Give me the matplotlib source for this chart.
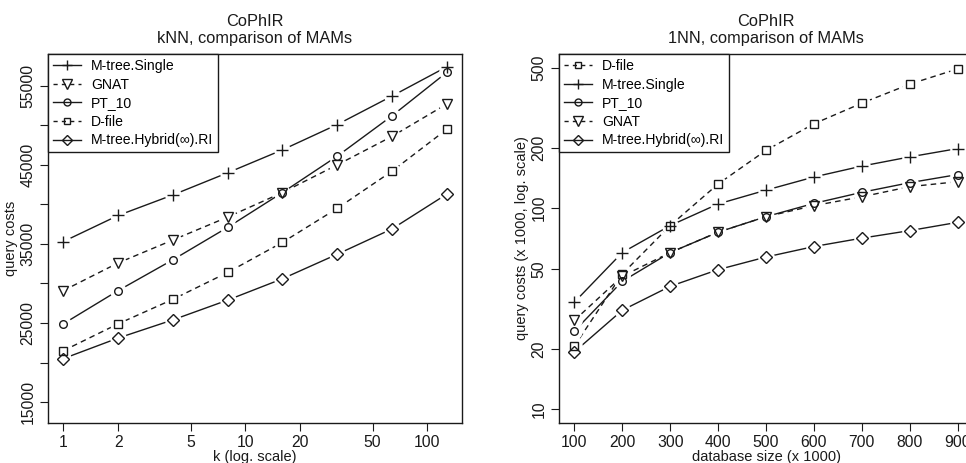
import numpy as np
import matplotlib.pyplot as plt
from matplotlib.lines import Line2D

plt.rcParams['font.family'] = ['Liberation Sans', 'DejaVu Sans']

# left panel: kNN, k on log scale
k_vals = [1, 2, 4, 8, 16, 32, 64, 128]
knn_mtree_single = [35300, 38600, 41200, 44000, 46900, 50100, 53700, 57400]
knn_gnat = [29100, 32600, 35500, 38400, 41500, 45000, 48600, 52700]
knn_pt10 = [24900, 29100, 33000, 37100, 41500, 46100, 51200, 56700]
knn_dfile = [21500, 24900, 28000, 31400, 35200, 39500, 44200, 49500]
knn_hybrid = [20500, 23100, 25400, 27900, 30600, 33700, 36900, 41300]

# right panel: 1NN, database size
db_size = [100, 200, 300, 400, 500, 600, 700, 800, 900]
nn_dfile = [20.6, 47.1, 82, 132, 194, 263, 333, 414, 493]
nn_mtree_single = [34.1, 60.2, 82, 105, 123, 143, 162, 180, 198]
nn_pt10 = [24.5, 43.3, 60.2, 76, 90.8, 105.7, 120, 134, 147]
nn_gnat = [27.7, 45.9, 60.2, 76, 90.8, 103, 114, 128, 135.5]
nn_hybrid = [19.3, 31.1, 40.9, 49.5, 57.2, 64.5, 71, 77.4, 85.1]

hyb_label = "M-tree.Hybrid(\u221e).RI"
style = {
    "M-tree.Single": ("+", "-", 8),
    "GNAT": ("v", "--", 7),
    "PT_10": ("o", "-", 5.5),
    "D-file": ("s", "--", 5.5),
    hyb_label: ("D", "-", 6),
}

ink = "#1a1a1a"
fs = 10.5


def draw_panel(ax, x, series, order):
    # lines first, then white gaps, then the markers (like R type="b")
    for name, y in series:
        m, ls, ms = style[name]
        ax.plot(x, y, color=ink, lw=1, ls=ls, dashes=(4, 3) if ls == "--" else (None, None), zorder=2)
    for name, y in series:
        ax.plot(x, y, ls="none", marker="o", ms=12, mfc="white", mec="none", zorder=3)
    for name, y in series:
        m, ls, ms = style[name]
        ax.plot(x, y, ls="none", marker=m, ms=ms, mfc="none", mec=ink, mew=1, zorder=4)
    handles = []
    for name in order:
        m, ls, ms = style[name]
        h = Line2D([], [], color=ink, lw=1, ls=ls, marker=m, ms=ms - 0.5, mfc="none", mec=ink)
        if ls == "--":
            h.set_dashes((3, 3))
        handles.append(h)
    leg = ax.legend(handles, order, loc="upper left", borderaxespad=0, fancybox=False,
                    fontsize=fs - 0.4, handlelength=2.0, handletextpad=0.7, labelspacing=0.33,
                    borderpad=0.35, framealpha=1)
    leg.get_frame().set_edgecolor(ink)
    leg.get_frame().set_linewidth(1)
    for s in ax.spines.values():
        s.set_linewidth(1)
        s.set_color(ink)
    ax.tick_params(direction="out", length=6, width=0.8, colors=ink, labelsize=fs + 0.8, pad=3)


fig = plt.figure(figsize=(9.66, 4.63), dpi=100)

# left
ax1 = fig.add_axes([0.0497, 0.0864, 0.4286, 0.797])
ax1.set_xscale("log")
draw_panel(ax1, k_vals,
           [("M-tree.Single", knn_mtree_single), ("GNAT", knn_gnat), ("PT_10", knn_pt10),
            ("D-file", knn_dfile), (hyb_label, knn_hybrid)],
           ["M-tree.Single", "GNAT", "PT_10", "D-file", hyb_label])
ax1.set_xlim(10 ** -0.0843, 10 ** 2.191)
ax1.set_ylim(12360, 59020)
ax1.set_xticks([1, 2, 5, 10, 20, 50, 100])
ax1.set_xticks([], minor=True)
ax1.set_xticklabels(["1", "2", "5", "10", "20", "50", "100"])
ax1.set_yticks(np.arange(15000, 55001, 5000))
ax1.set_yticklabels(["15000", "", "25000", "", "35000", "", "45000", "", "55000"])
for t in ax1.get_yticklabels():
    t.set_rotation(90)
    t.set_va("center")
ax1.set_xlabel("k (log. scale)", fontsize=fs, labelpad=0, color=ink)
ax1.set_ylabel("query costs", fontsize=fs, labelpad=2, color=ink)
ax1.set_title("CoPhIR\nkNN, comparison of MAMs", fontsize=fs + 1.3, color=ink, pad=8, linespacing=1.15)

# right
ax2 = fig.add_axes([0.5787, 0.0864, 0.4286, 0.797])
ax2.set_yscale("log")
draw_panel(ax2, db_size,
           [("D-file", nn_dfile), ("M-tree.Single", nn_mtree_single), ("PT_10", nn_pt10),
            ("GNAT", nn_gnat), (hyb_label, nn_hybrid)],
           ["D-file", "M-tree.Single", "PT_10", "GNAT", hyb_label])
ax2.set_xlim(68, 932)
ax2.set_ylim(10 ** (1 - 0.0679), 10 ** (np.log10(500) + 0.0679))
ax2.set_xticks(db_size)
ax2.set_xticklabels([str(v) for v in db_size])
ax2.set_yticks([10, 20, 50, 100, 200, 500])
ax2.set_yticks([], minor=True)
ax2.set_yticklabels(["10", "20", "50", "100", "200", "500"])
for t in ax2.get_yticklabels():
    t.set_rotation(90)
    t.set_va("center")
ax2.set_xlabel("database size (x 1000)", fontsize=fs, labelpad=0, color=ink)
ax2.set_ylabel("query costs (x 1000, log. scale)", fontsize=fs, labelpad=2, color=ink)
ax2.set_title("CoPhIR\n1NN, comparison of MAMs", fontsize=fs + 1.3, color=ink, pad=8, linespacing=1.15)

fig.savefig("out.png", dpi=100)
